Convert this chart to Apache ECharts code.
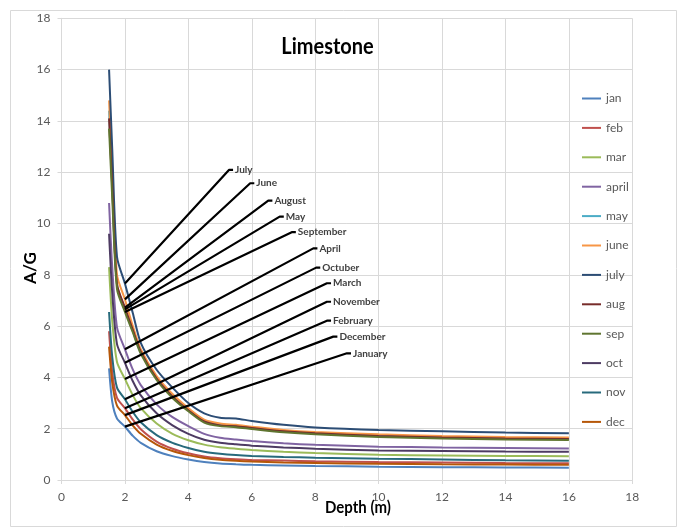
<!DOCTYPE html>
<html>
<head>
<meta charset="utf-8">
<script src="https://cdn.jsdelivr.net/npm/echarts@6/dist/echarts.min.js"></script>
<style>
html,body{margin:0;padding:0;background:#fff;}
#chart{width:683px;height:528px;}
</style>
</head>
<body>
<div id="chart"></div>
<script>
// ---- data ----
var depths = [1.5, 1.6, 1.75, 2, 2.25, 2.5, 3, 3.5, 4, 4.5, 5, 5.5, 6, 7, 8, 10, 12, 14, 16];
var seriesNames = ['jan','feb','mar','april','may','june','july','aug','sep','oct','nov','dec'];
var jan   = [4.35, 3.05, 2.40, 2.08, 1.72, 1.45, 1.12, 0.93, 0.80, 0.70, 0.64, 0.61, 0.59, 0.57, 0.55, 0.52, 0.50, 0.49, 0.48];
var feb   = [5.80, 4.20, 3.20, 2.80, 2.35, 1.98, 1.50, 1.22, 1.04, 0.92, 0.85, 0.81, 0.78, 0.76, 0.73, 0.70, 0.68, 0.66, 0.65];
var mar   = [8.30, 6.20, 4.60, 3.94, 3.30, 2.80, 2.20, 1.80, 1.55, 1.38, 1.28, 1.22, 1.17, 1.10, 1.05, 0.98, 0.96, 0.94, 0.93];
var april = [10.8, 8.30, 5.95, 5.10, 4.30, 3.70, 2.95, 2.45, 2.10, 1.80, 1.65, 1.58, 1.52, 1.43, 1.37, 1.30, 1.27, 1.25, 1.23];
var may   = [14.4, 11.5, 7.62, 6.65, 5.80, 4.98, 3.98, 3.28, 2.75, 2.30, 2.16, 2.12, 2.05, 1.92, 1.84, 1.75, 1.68, 1.64, 1.62];
var june  = [14.8, 11.9, 8.00, 7.04, 6.00, 5.10, 4.05, 3.35, 2.80, 2.35, 2.20, 2.15, 2.08, 1.95, 1.87, 1.78, 1.72, 1.68, 1.66];
var july  = [16.0, 12.9, 8.70, 7.66, 6.50, 5.35, 4.30, 3.60, 3.00, 2.60, 2.43, 2.40, 2.30, 2.15, 2.05, 1.95, 1.90, 1.85, 1.82];
var aug   = [14.1, 11.4, 7.64, 6.72, 5.85, 5.00, 3.95, 3.25, 2.72, 2.28, 2.13, 2.10, 2.03, 1.90, 1.82, 1.72, 1.66, 1.62, 1.60];
var sep   = [13.7, 11.0, 7.44, 6.55, 5.75, 4.92, 3.90, 3.20, 2.68, 2.24, 2.10, 2.06, 1.99, 1.86, 1.78, 1.68, 1.62, 1.58, 1.56];
var oct   = [9.60, 7.30, 5.30, 4.57, 3.85, 3.30, 2.60, 2.13, 1.80, 1.57, 1.45, 1.39, 1.34, 1.27, 1.22, 1.15, 1.13, 1.11, 1.10];
var nov   = [6.55, 4.80, 3.60, 3.15, 2.65, 2.25, 1.75, 1.45, 1.25, 1.10, 1.02, 0.97, 0.94, 0.90, 0.87, 0.83, 0.80, 0.77, 0.75];
var dec   = [5.20, 3.80, 2.90, 2.53, 2.12, 1.80, 1.38, 1.13, 0.97, 0.86, 0.79, 0.75, 0.72, 0.68, 0.66, 0.63, 0.61, 0.60, 0.59];
var seriesColors = ['#4F81BD','#C0504D','#9BBB59','#8064A2','#4BACC6','#F79646','#2C4D75','#772C2A','#5F7530','#4D3B62','#276A7C','#B65708'];

// annotation callouts: label text, series it points to, label anchor (data units)
var annLabels = ['July','June','August','May','September','April','Octuber','March','November','February','December','January'];
var annSeries = ['july','june','aug','may','sep','april','oct','mar','nov','feb','dec','jan'];
var annLabelX = [5.28, 5.95, 6.52, 6.88, 7.26, 7.94, 8.03, 8.37, 8.37, 8.37, 8.57, 9.00];
var annLabelY = [12.09, 11.57, 10.89, 10.27, 9.66, 9.03, 8.28, 7.67, 6.95, 6.21, 5.59, 4.94];
var annFromDepth = 2;

var xTicks = [0,2,4,6,8,10,12,14,16,18];
var yTicks = [0,2,4,6,8,10,12,14,16,18];

var values = [jan,feb,mar,april,may,june,july,aug,sep,oct,nov,dec];
var FONT = "Lato, 'Liberation Sans', sans-serif";

var series = [];
seriesNames.forEach(function(n, i){
  series.push({
    name: n, type: 'line', symbol: 'none', smooth: 0.25,
    data: depths.map(function(d, k){ return [d, values[i][k]]; }),
    lineStyle: {width: 2, color: seriesColors[i]},
    itemStyle: {color: seriesColors[i]},
    z: 2, silent: true
  });
});
var idx2 = depths.indexOf(annFromDepth);
annLabels.forEach(function(lab, i){
  var v = values[seriesNames.indexOf(annSeries[i])][idx2];
  series.push({
    name: lab, type: 'line', symbol: 'none', smooth: false, silent: true, z: 3,
    data: [[annFromDepth, v], [annLabelX[i], annLabelY[i]], [annLabelX[i] + 0.13, annLabelY[i]]],
    lineStyle: {width: 2.2, color: '#000'},
    endLabel: {show: true, formatter: '{a}', distance: 2, color: '#404040',
      fontFamily: FONT, fontWeight: 'bold', fontSize: 10}
  });
});

var chart = echarts.init(document.getElementById('chart'), null, {renderer: 'canvas'});
chart.setOption({
  animation: false,
  backgroundColor: '#fff',
  grid: {left: 61.5, right: 50.7, top: 18.3, bottom: 48, containLabel: false, outerBoundsMode: 'none'},
  xAxis: {
    type: 'value', min: xTicks[0], max: xTicks[xTicks.length-1], interval: xTicks[1]-xTicks[0],
    axisLine: {show: true, lineStyle: {color: '#D9D9D9'}},
    axisTick: {show: true, length: 4, lineStyle: {color: '#D9D9D9'}},
    splitLine: {show: true, lineStyle: {color: '#D9D9D9', width: 1}},
    axisLabel: {color: '#595959', fontSize: 12, fontFamily: FONT, margin: 11}
  },
  yAxis: {
    type: 'value', min: yTicks[0], max: yTicks[yTicks.length-1], interval: yTicks[1]-yTicks[0],
    axisLine: {show: true, lineStyle: {color: '#D9D9D9'}},
    axisTick: {show: true, length: 4, lineStyle: {color: '#D9D9D9'}},
    splitLine: {show: true, lineStyle: {color: '#D9D9D9', width: 1}},
    axisLabel: {color: '#595959', fontSize: 12, fontFamily: FONT, margin: 11}
  },
  legend: {
    data: seriesNames.map(function(n){ return {name: n, icon: 'rect'}; }),
    orient: 'vertical', left: 577, top: 87,
    itemWidth: 19, itemHeight: 2, itemGap: 16.4,
    textStyle: {color: '#595959', fontSize: 12, lineHeight: 13, fontFamily: FONT},
    selectedMode: false
  },
  graphic: [
    {type: 'rect', shape: {x: 10.5, y: 10.5, width: 666, height: 516}, style: {fill: 'none', stroke: '#D9D9D9', lineWidth: 1}, silent: true, z: -1},
    {type: 'text', x: 327.5, y: 47, z: 100, scaleY: 1.15, style: {text: 'Limestone', fontSize: 20, fontWeight: 'bold', fontFamily: FONT, fill: '#000', align: 'center', verticalAlign: 'middle'}},
    {type: 'text', x: 358, y: 508, z: 100, scaleY: 1.1, style: {text: 'Depth (m)', fontSize: 15, fontWeight: 'bold', fontFamily: FONT, fill: '#000', align: 'center', verticalAlign: 'middle'}},
    {type: 'text', x: 31, y: 268, z: 100, rotation: Math.PI/2, style: {text: 'A/G', fontSize: 17, fontWeight: 'bold', fontFamily: FONT, fill: '#000', align: 'center', verticalAlign: 'middle'}}
  ],
  series: series
});
</script>
</body>
</html>
